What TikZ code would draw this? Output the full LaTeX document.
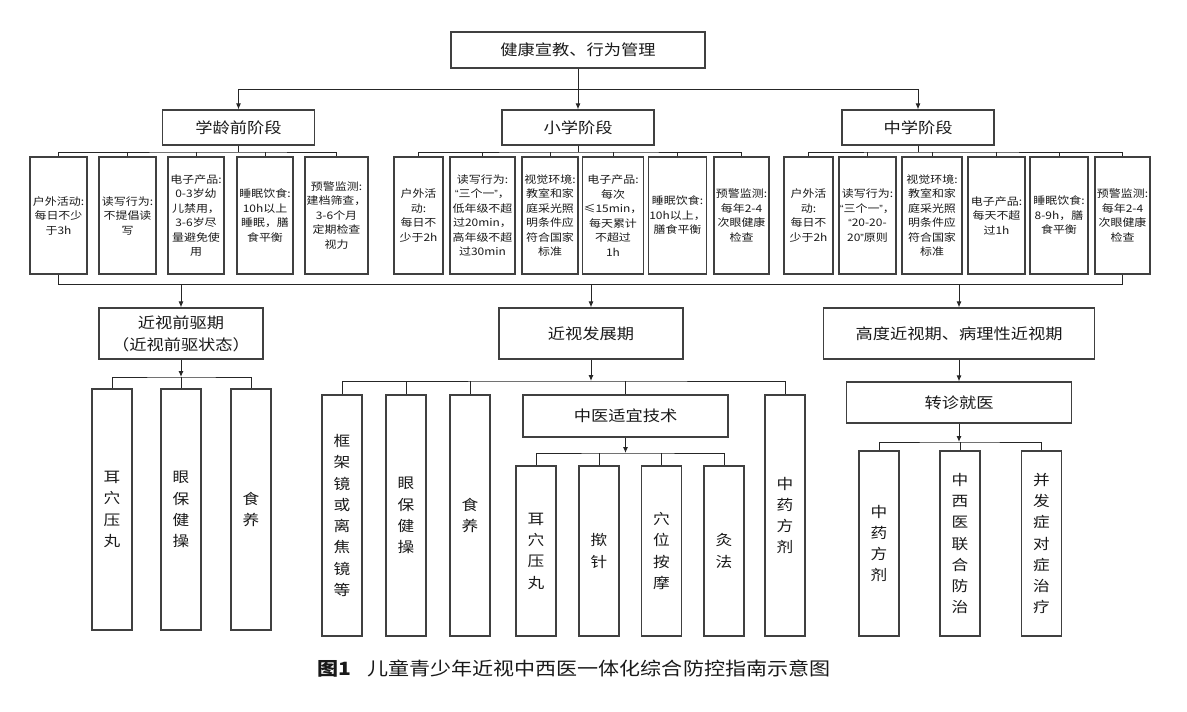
\documentclass[tikz,border=0pt]{standalone}
\usepackage{fontspec}
\newfontfamily\cjk[FakeStretch=1.15]{Noto Sans CJK SC}
\newfontfamily\latq{Liberation Sans}
\newcommand\qL{{\latq “}}
\newcommand\qR{{\latq ”}}
\usetikzlibrary{arrows.meta}

\begin{document}
\begin{tikzpicture}[x=1pt,y=-1pt,line width=1pt,draw=black!85,
  arr/.style={-{Latex[length=6pt,width=5pt]}},
  bx/.style={draw=black!75,line width=1.1pt,rectangle,inner sep=1pt,align=center,text=black!90,font=\cjk\fontsize{15}{22}\selectfont},
  stage/.style={bx,minimum width=152pt,minimum height=35pt},
  sm/.style={bx,minimum height=117pt,font=\cjk\fontsize{10.4}{14.5}\selectfont},
  tall/.style={bx,minimum width=40pt,minimum height=#1,font=\cjk\fontsize{14.5}{21.3}\selectfont}]
\useasboundingbox (0,0) rectangle (1187,712);

\node[bx,minimum width=254pt,minimum height=36pt] (title) at (578,50) {健康宣教、行为管理};
\node[stage] (s1) at (238.5,127.5) {学龄前阶段};
\node[stage] (s2) at (578,127.5) {小学阶段};
\node[stage] (s3) at (918,127.5) {中学阶段};
\coordinate (tb) at (578,89);
\draw[arr] (title) -- (s2);
\draw[arr] (tb) -| (s1.north);
\draw[arr] (tb) -| (s3.north);

\foreach \n/\x/\w/\t in {%
  a1/58.5/57/{户外活动:\\每日不少\\于3h},
  a2/127.5/57/{读写行为:\\不提倡读\\写},
  a3/196/56/{电子产品:\\0-3岁幼\\儿禁用，\\3-6岁尽\\量避免使\\用},
  a4/265/56/{睡眠饮食:\\10h以上\\睡眠，膳\\食平衡},
  a5/336.5/63/{预警监测:\\建档筛查，\\3-6个月\\定期检查\\视力},
  b1/418.5/49/{户外活\\动:\\每日不\\少于2h},
  b2/482.5/65/{读写行为:\\\qL 三个一\qR，\\低年级不超\\过20min，\\高年级不超\\过30min},
  b3/550/56/{视觉环境:\\教室和家\\庭采光照\\明条件应\\符合国家\\标准},
  b4/613/58/{电子产品:\\每次\\≤15min，\\每天累计\\不超过\\1h},
  b5/677.5/57/{睡眠饮食:\\10h以上，\\膳食平衡},
  b6/741.5/55/{预警监测:\\每年2-4\\次眼健康\\检查},
  c1/808.5/49/{户外活\\动:\\每日不\\少于2h},
  c2/867.5/57/{读写行为:\\\qL 三个一\qR，\\\qL 20-20-\\20\qR 原则},
  c3/932/60/{视觉环境:\\教室和家\\庭采光照\\明条件应\\符合国家\\标准},
  c4/996.5/57/{电子产品:\\每天不超\\过1h},
  c5/1059/58/{睡眠饮食:\\8-9h，膳\\食平衡},
  c6/1122.5/55/{预警监测:\\每年2-4\\次眼健康\\检查}} {
   \node[sm,minimum width=\w pt] (\n) at (\x,215.5) {\t};
}

\coordinate (sa) at (238.5,152);
\coordinate (sb) at (578,152);
\coordinate (sc) at (918,152);
\draw (s1) -- (sa);
\draw (s2) -- (sb);
\draw (s3) -- (sc);
\draw (a1.north) |- (sa) -| (a5.north);
\draw (b1.north) |- (sb) -| (b6.north);
\draw (c1.north) |- (sc) -| (c6.north);
\foreach \n in {a2,a3,a4} {\draw (\n.north) -- (\n.north |- sa);}
\foreach \n in {b2,b3,b4,b5} {\draw (\n.north) -- (\n.north |- sb);}
\foreach \n in {c2,c3,c4,c5} {\draw (\n.north) -- (\n.north |- sc);}

\node[bx,minimum width=164pt,minimum height=51pt] (p1) at (181,333.5) {近视前驱期\\（近视前驱状态）};
\node[bx,minimum width=184pt,minimum height=51pt] (p2) at (591,333.5) {近视发展期};
\node[bx,minimum width=271pt,minimum height=51pt] (p3) at (959,333.5) {高度近视期、病理性近视期};
\coordinate (bus) at (0,284);
\draw (a1.south) |- (c6.south |- bus) -- (c6.south);
\draw[arr] (p1.north |- bus) -- (p1.north);
\draw[arr] (p2.north |- bus) -- (p2.north);
\draw[arr] (p3.north |- bus) -- (p3.north);

\node[tall=241pt] (t1) at (112,509.5) {耳\\穴\\压\\丸};
\node[tall=241pt] (t2) at (181,509.5) {眼\\保\\健\\操};
\node[tall=241pt] (t3) at (251,509.5) {食\\养};
\coordinate (q1) at (181,377);
\draw[arr] (p1) -- (q1);
\draw (t1.north) |- (q1) -| (t3.north);
\draw (t2.north) -- (t2.north |- q1);

\node[tall=241pt] (m1) at (342,515.5) {框\\架\\镜\\或\\离\\焦\\镜\\等};
\node[tall=241pt] (m2) at (406,515.5) {眼\\保\\健\\操};
\node[tall=241pt] (m3) at (470,515.5) {食\\养};
\node[bx,minimum width=205pt,minimum height=42pt] (tcm) at (625.5,416) {中医适宜技术};
\node[tall=241pt] (m5) at (785,515.5) {中\\药\\方\\剂};
\coordinate (q2) at (591,381);
\draw[arr] (p2) -- (q2);
\draw (m1.north) |- (q2) -| (m5.north);
\foreach \n in {m2,m3,tcm} {\draw (\n.north) -- (\n.north |- q2);}

\node[tall=170pt] (n1) at (536,551) {耳\\穴\\压\\丸};
\node[tall=170pt] (n2) at (599,551) {揿\\针};
\node[tall=170pt] (n3) at (661.5,551) {穴\\位\\按\\摩};
\node[tall=170pt] (n4) at (724,551) {灸\\法};
\coordinate (q3) at (625.5,453);
\draw[arr] (tcm) -- (q3);
\draw (n1.north) |- (q3) -| (n4.north);
\foreach \n in {n2,n3} {\draw (\n.north) -- (\n.north |- q3);}

\node[bx,minimum width=225pt,minimum height=41pt] (zz) at (959,402.5) {转诊就医};
\draw[arr] (p3) -- (zz);
\node[tall=185pt] (r1) at (879,543.5) {中\\药\\方\\剂};
\node[tall=185pt] (r2) at (960,543.5) {中\\西\\医\\联\\合\\防\\治};
\node[tall=185pt] (r3) at (1041.5,543.5) {并\\发\\症\\对\\症\\治\\疗};
\coordinate (q4) at (959,442);
\draw[arr] (zz) -- (q4);
\draw (r1.north) |- (q4) -| (r3.north);
\draw (r2.north) -- (r2.north |- q4);

\node[anchor=west,inner sep=0pt,text=black!90,font=\cjk\fontsize{18.3}{22}\selectfont] (cap) at (317,669) {{\bfseries 图1}\hspace{16pt}儿童青少年近视中西医一体化综合防控指南示意图};
\end{tikzpicture}
\end{document}
